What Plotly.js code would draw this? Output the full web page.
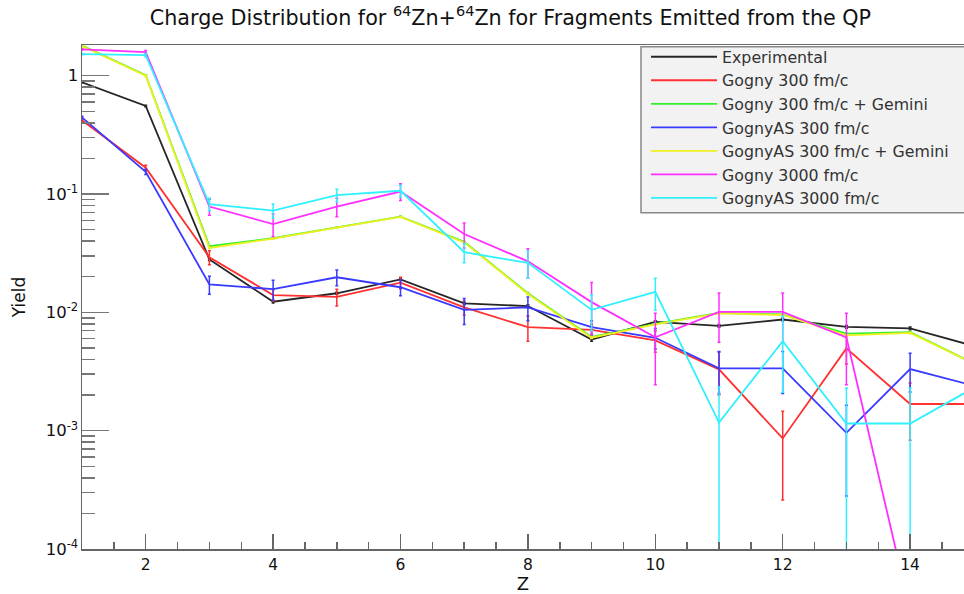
<!DOCTYPE html>
<html>
<head>
<meta charset="utf-8">
<script src="https://cdn.plot.ly/plotly-3.0.1.min.js"></script>
<style>
  html, body { margin: 0; padding: 0; background: #ffffff; }
  #chart { width: 964px; height: 594px; }
</style>
</head>
<body>
<div id="chart"></div>
<script>
// Fragment charge number
const zValues = [1, 2, 3, 4, 5, 6, 7, 8, 9, 10, 11, 12, 13, 14, 15];

// Yields per charge and their uncertainties
const expYield       = [0.88, 0.555, 0.028, 0.0123, 0.0145, 0.019, 0.0119, 0.0113, 0.0059, 0.0083, 0.0077, 0.0087, 0.00755, 0.00733, 0.0052];
const expErr         = [0.01, 0.008, 0.0006, 0.0003, 0.0003, 0.0004, 0.0003, 0.0003, 0.0002, 0.0002, 0.0002, 0.0002, 0.0002, 0.0002, 0.0002];

const gogny300       = [0.42, 0.167, 0.0292, 0.014, 0.0135, 0.0178, 0.011, 0.0075, 0.0071, 0.0058, 0.0033, 0.00086, 0.00496, 0.00168, 0.00168];
const gogny300Err    = [0.01, 0.008, 0.004, 0.0015, 0.0022, 0.002, 0.0015, 0.0018, 0.0008, 0.0012, 0.0013, 0.0006, 0.0013, 0.00085, 0.00085];

const gogny300Gem    = [1.80, 1.01, 0.0362, 0.0423, 0.0523, 0.0645, 0.0395, 0.0145, 0.0062, 0.0080, 0.0099, 0.0096, 0.0066, 0.0068, 0.0037];
const gogny300GemErr = [0.02, 0.01, 0.0004, 0.0004, 0.0005, 0.0006, 0.0004, 0.0002, 0.0001, 0.0001, 0.0001, 0.0001, 0.0001, 0.0001, 0.0001];

const gognyAS300     = [0.445, 0.154, 0.0172, 0.0157, 0.0198, 0.0163, 0.0105, 0.011, 0.0075, 0.0061, 0.00336, 0.00336, 0.00096, 0.00332, 0.0024];
const gognyAS300Err  = [0.01, 0.008, 0.003, 0.003, 0.003, 0.0025, 0.0026, 0.0025, 0.001, 0.0012, 0.0013, 0.0013, 0.00068, 0.0012, 0.0011];

const gognyAS300Gem    = [1.78, 1.0, 0.035, 0.042, 0.052, 0.064, 0.039, 0.0143, 0.0061, 0.0079, 0.0098, 0.0095, 0.0064, 0.0067, 0.0037];
const gognyAS300GemErr = [0.02, 0.01, 0.0004, 0.0004, 0.0005, 0.0006, 0.0004, 0.0002, 0.0001, 0.0001, 0.0001, 0.0001, 0.0001, 0.0001, 0.0001];

const gogny3000      = [1.67, 1.58, 0.0783, 0.0557, 0.0783, 0.105, 0.0459, 0.027, 0.0122, 0.00615, 0.0101, 0.0101, 0.00615, 0.00003];
const gogny3000Err   = [0.02, 0.05, 0.012, 0.012, 0.014, 0.017, 0.011, 0.0075, 0.0057, 0.0037, 0.0045, 0.0045, 0.0037, 0.00001];

const gognyAS3000    = [1.52, 1.49, 0.0822, 0.0724, 0.098, 0.1065, 0.0322, 0.0262, 0.0105, 0.0149, 0.00117, 0.00571, 0.00115, 0.00115, 0.0023];
const gognyAS3000Err = [0.02, 0.05, 0.01, 0.01, 0.012, 0.012, 0.006, 0.0068, 0.0035, 0.0045, 0.00117, 0.0036, 0.00115, 0.00115, 0.0012];

const seriesNames = [
  'Experimental',
  'Gogny 300 fm/c',
  'Gogny 300 fm/c + Gemini',
  'GognyAS 300 fm/c',
  'GognyAS 300 fm/c + Gemini',
  'Gogny 3000 fm/c',
  'GognyAS 3000 fm/c'
];
const seriesColors = ['#262626', '#ff3030', '#30f030', '#3a3aff', '#f0f020', '#ff30ff', '#30f0ff'];
const seriesValues = [expYield, gogny300, gogny300Gem, gognyAS300, gognyAS300Gem, gogny3000, gognyAS3000];
const seriesErrors = [expErr, gogny300Err, gogny300GemErr, gognyAS300Err, gognyAS300GemErr, gogny3000Err, gognyAS3000Err];

// Tick labels for the logarithmic yield axis
const yTickVals = [1e-4, 1e-3, 1e-2, 1e-1, 1];
const yTickText = ['10<sup>-4</sup>', '10<sup>-3</sup>', '10<sup>-2</sup>', '10<sup>-1</sup>', '1'];
const xTickVals = [2, 4, 6, 8, 10, 12, 14];

// Minor ticks at 2..9 times each decade
const yMinorVals = [];
for (let e = -4; e <= 0; e++) {
  for (let m = 2; m <= 9; m++) yMinorVals.push(m * Math.pow(10, e));
}

const traces = seriesNames.map((name, i) => ({
  type: 'scatter',
  mode: 'lines',
  name: name,
  x: zValues.slice(0, seriesValues[i].length),
  y: seriesValues[i],
  line: { color: seriesColors[i], width: 1.8 },
  error_y: {
    type: 'data',
    array: seriesErrors[i],
    visible: true,
    color: seriesColors[i],
    thickness: 1.5,
    width: 1.5
  },
  hoverinfo: 'x+y+name'
}));

const font = 'DejaVu Sans, Verdana, sans-serif';

const layout = {
  width: 964,
  height: 594,
  margin: { l: 82, r: 0, t: 45, b: 45, pad: 0 },
  paper_bgcolor: '#ffffff',
  plot_bgcolor: '#ffffff',
  font: { family: font, color: '#111111' },
  title: {
    text: 'Charge Distribution for <sup>64</sup>Zn+<sup>64</sup>Zn for Fragments Emitted from the QP',
    font: { family: font, size: 20.7, color: '#111111' },
    x: 0.5295,
    xanchor: 'center',
    y: 0.97,
    yanchor: 'middle'
  },
  xaxis: {
    range: [1, 14.846],
    showgrid: false,
    zeroline: false,
    showline: true,
    linecolor: '#666666',
    linewidth: 1.5,
    mirror: true,
    ticks: 'inside',
    ticklen: 15,
    tickwidth: 1.5,
    tickcolor: '#666666',
    tickmode: 'array',
    tickvals: xTickVals,
    tickfont: { family: font, size: 15.5, color: '#111111' },
    ticklabelstandoff: 1,
    minor: { dtick: 0.5, tick0: 1, ticks: 'inside', ticklen: 7, tickwidth: 1.5, tickcolor: '#666666' },
    title: { text: 'Z', font: { family: font, size: 18, color: '#111111' }, standoff: 2 }
  },
  yaxis: {
    type: 'log',
    range: [-4, 0.2595],
    showgrid: false,
    zeroline: false,
    showline: true,
    linecolor: '#666666',
    linewidth: 1.5,
    ticks: 'inside',
    ticklen: 27,
    tickwidth: 1.5,
    tickcolor: '#777777',
    tickmode: 'array',
    tickvals: yTickVals,
    ticktext: yTickText,
    tickfont: { family: font, size: 16.5, color: '#111111' },
    ticklabelstandoff: -1,
    minor: { tickmode: 'array', tickvals: yMinorVals, ticks: 'inside', ticklen: 13, tickwidth: 1.5, tickcolor: '#777777' },
    title: { text: 'Yield', font: { family: font, size: 17, color: '#111111' }, standoff: 15 }
  },
  // Legend panel drawn behind the legend entries
  shapes: [{
    type: 'rect',
    xref: 'paper', yref: 'paper',
    x0: 0.6338, x1: 1.01,
    y0: 0.6673, y1: 0.9966,
    fillcolor: '#f2f2f2',
    line: { color: '#888888', width: 1.5 },
    layer: 'below'
  }],
  showlegend: true,
  legend: {
    x: 0.6395,
    xanchor: 'left',
    y: 1.01,
    yanchor: 'top',
    bgcolor: 'rgba(0,0,0,0)',
    borderwidth: 0,
    itemwidth: 66,
    font: { family: font, size: 15.8, color: '#333333' },
    tracegroupgap: 0
  }
};

Plotly.newPlot('chart', traces, layout, { displayModeBar: false, staticPlot: true });
</script>
</body>
</html>
